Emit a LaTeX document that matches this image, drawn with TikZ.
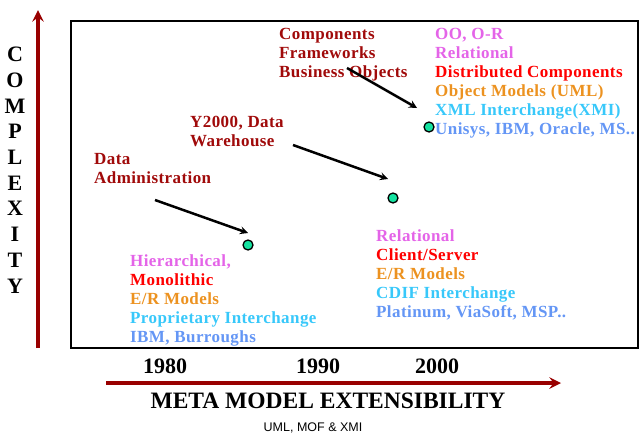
\documentclass[tikz,border=0pt]{standalone}
\usepackage{fontspec}
\setmainfont{Liberation Serif}
\newfontfamily\notefont{Liberation Sans}
\newfontfamily\listfont[LetterSpace=2.5]{Liberation Serif}
\usepackage{tikz}
\usetikzlibrary{arrows, positioning}

\definecolor{axisred}{RGB}{153,0,0}
\definecolor{eventred}{RGB}{160,10,10}
\definecolor{techviolet}{RGB}{228,100,232}
\definecolor{archred}{RGB}{255,0,0}
\definecolor{modelorange}{RGB}{236,146,32}
\definecolor{xchgcyan}{RGB}{56,200,250}
\definecolor{vendorblue}{RGB}{100,150,245}
\definecolor{dotgreen}{RGB}{20,226,160}

\begin{document}
\begin{tikzpicture}[
    x=1pt, y=-1pt,
    event/.style={anchor=north west, inner sep=0pt, align=left, text=eventred, font=\listfont\fontsize{17}{19}\selectfont\bfseries},
    tech/.style={anchor=north west, inner sep=0pt, align=left, font=\listfont\fontsize{17}{19}\selectfont\bfseries},
    era/.style={circle, draw, line width=1.3pt, fill=dotgreen, minimum size=10pt, inner sep=0pt},
    year/.style={anchor=base, inner sep=0pt, font=\fontsize{22}{22}\selectfont\bfseries},
    axis/.style={->, >=stealth, line width=4pt, draw=axisred},
    arrow/.style={->, >=stealth, line width=2.5pt}
]
\useasboundingbox (0,0) rectangle (640,434);

% plot frame
\node[draw, line width=2.4pt, minimum width=567pt, minimum height=327pt, anchor=north west, inner sep=0pt] (frame) at (70,20) {};

% axes
\coordinate (ybot) at (38,348);
\coordinate (ytop) at (38,10);
\coordinate (xleft) at (106,383);
\coordinate (xright) at (561,383);
\draw[axis] (ybot) -- (ytop);
\draw[axis] (xleft) -- (xright);

\node[anchor=north, inner sep=0pt, align=center, font=\fontsize{22}{25.7}\selectfont\bfseries] (complexity) at (15,47) {C\\O\\M\\P\\L\\E\\X\\I\\T\\Y};
\node[anchor=base, inner sep=0pt, font=\fontsize{23.5}{24}\selectfont\bfseries] (extensibility) at (328,408) {META MODEL EXTENSIBILITY};
\node[anchor=base, inner sep=0pt, font=\notefont\fontsize{12.5}{13}\selectfont] (standards) at (313,431) {UML, MOF \& XMI};

% years
\node[year] (y1980) at (165,373) {1980};
\node[year] (y1990) at (318,373) {1990};
\node[year] (y2000) at (437,373) {2000};

% eras
\node[era] (era80) at (248,245) {};
\node[era] (era90) at (393,198) {};
\node[era] (era00) at (429,127) {};

% drivers
\node[event] (admin) at (94,153) {Data\\Administration};
\node[event] (y2k) at (190,116) {Y2000, Data\\Warehouse};
\node[event] (comp) at (279,28) {Components\\Frameworks\\Business Objects};

% technologies
\node[tech] (tech80) at (130,254) {\textcolor{techviolet}{Hierarchical,}\\
  \textcolor{archred}{Monolithic}\\
  \textcolor{modelorange}{E/R Models}\\
  \textcolor{xchgcyan}{Proprietary Interchange}\\
  \textcolor{vendorblue}{IBM, Burroughs}};
\node[tech] (tech90) at (376,230) {\textcolor{techviolet}{Relational}\\
  \textcolor{archred}{Client/Server}\\
  \textcolor{modelorange}{E/R Models}\\
  \textcolor{xchgcyan}{CDIF Interchange}\\
  \textcolor{vendorblue}{Platinum, ViaSoft, MSP..}};
\node[tech] (tech00) at (435,28) {\textcolor{techviolet}{OO, O-R}\\
  \textcolor{techviolet}{Relational}\\
  \textcolor{archred}{Distributed Components}\\
  \textcolor{modelorange}{Object Models (UML)}\\
  \textcolor{xchgcyan}{XML Interchange(XMI)}\\
  \textcolor{vendorblue}{Unisys, IBM, Oracle, MS..}};

% driver arrows
\coordinate (admin-out) at (155,200);
\coordinate (era80-in) at (248,233);
\coordinate (y2k-out) at (293,145);
\coordinate (era90-in) at (388,179);
\coordinate (comp-out) at (347,68);
\coordinate (era00-in) at (417,108);
\draw[arrow] (admin-out) -- (era80-in);
\draw[arrow] (y2k-out) -- (era90-in);
\draw[arrow] (comp-out) -- (era00-in);

\end{tikzpicture}
\end{document}
